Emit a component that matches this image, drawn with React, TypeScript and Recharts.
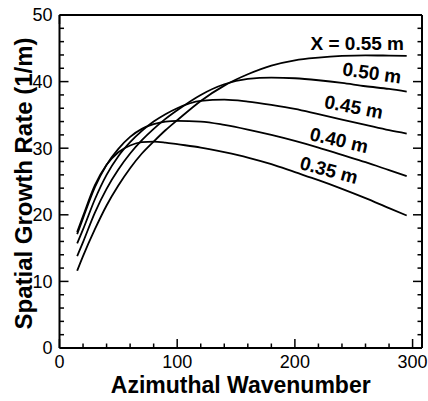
import React from 'react';
import { LineChart, Line, XAxis, YAxis, ReferenceDot } from 'recharts';

// azimuthal wavenumber samples
const wavenumbers = [15, 20, 30, 40, 50, 60, 70, 80, 90, 100, 120, 140, 160, 180, 200, 220, 240, 260, 280, 295];

// spatial growth rate (1/m) for each streamwise station
const rateX035 = [17.4, 19.8, 24.4, 27.5, 29.4, 30.4, 30.9, 31.0, 30.85, 30.6, 30.1, 29.4, 28.6, 27.6, 26.4, 25.2, 23.9, 22.5, 21.0, 19.9];
const rateX040 = [17.1, 19.5, 24.1, 27.5, 29.9, 31.7, 32.9, 33.6, 34.0, 34.1, 34.0, 33.5, 32.8, 32.0, 31.1, 30.1, 29.0, 27.9, 26.7, 25.8];
const rateX045 = [15.7, 17.8, 22.3, 26.0, 28.8, 30.9, 32.6, 34.0, 35.1, 36.0, 37.1, 37.3, 37.0, 36.5, 35.9, 35.1, 34.3, 33.5, 32.7, 32.2];
const rateX050 = [13.8, 15.9, 20.3, 23.9, 26.8, 29.2, 31.2, 32.9, 34.4, 35.7, 38.0, 39.6, 40.4, 40.6, 40.5, 40.2, 39.8, 39.3, 38.9, 38.5];
const rateX055 = [11.6, 13.8, 17.8, 21.4, 24.4, 27.0, 29.2, 31.0, 32.7, 34.2, 37.1, 39.4, 41.1, 42.4, 43.2, 43.6, 43.85, 43.95, 43.9, 43.85];

const seriesKeys = ['x035', 'x040', 'x045', 'x050', 'x055'];
const seriesValues = [rateX035, rateX040, rateX045, rateX050, rateX055];

// curve labels (data coordinates) and tilt
const labelTexts = ['0.35 m', '0.40 m', '0.45 m', '0.50 m', 'X = 0.55 m'];
const labelX = [229, 237.5, 250, 265.5, 253];
const labelY = [26.7, 31.2, 36.2, 41.3, 45.75];
const labelAngle = [15, 13, 11, 8, 0];

const xTicks = [0, 20, 40, 60, 80, 100, 120, 140, 160, 180, 200, 220, 240, 260, 280, 300];
const yTicks = [0, 2, 4, 6, 8, 10, 12, 14, 16, 18, 20, 22, 24, 26, 28, 30, 32, 34, 36, 38, 40, 42, 44, 46, 48, 50];

const data = wavenumbers.map((w, i) => {
  const row: Record<string, number> = { x: w };
  seriesKeys.forEach((k, j) => {
    row[k] = seriesValues[j][i];
  });
  return row;
});

const FONT = '"Liberation Sans", Arial, Helvetica, sans-serif';

const BottomTick = (props: any) => {
  const { x, y, payload } = props;
  const major = payload.value % 100 === 0;
  return (
    <g>
      <line x1={x} y1={y} x2={x} y2={y - (major ? 9 : 4.5)} stroke="#000" strokeWidth={1.5} />
      {major && (
        <text x={x} y={y + 20} textAnchor="middle" fontSize={18} fontFamily={FONT} fill="#000">
          {payload.value}
        </text>
      )}
    </g>
  );
};

const TopTick = (props: any) => {
  const { x, y, payload } = props;
  const major = payload.value % 100 === 0;
  return <line x1={x} y1={y} x2={x} y2={y + (major ? 9 : 4.5)} stroke="#000" strokeWidth={1.5} />;
};

const LeftTick = (props: any) => {
  const { x, y, payload } = props;
  const major = payload.value % 10 === 0;
  return (
    <g>
      <line x1={x} y1={y} x2={x + (major ? 9 : 4.5)} y2={y} stroke="#000" strokeWidth={1.5} />
      {major && (
        <text x={x - 7} y={y} dy="0.36em" textAnchor="end" fontSize={18} fontFamily={FONT} fill="#000">
          {payload.value}
        </text>
      )}
    </g>
  );
};

const RightTick = (props: any) => {
  const { x, y, payload } = props;
  const major = payload.value % 10 === 0;
  return <line x1={x} y1={y} x2={x - (major ? 9 : 4.5)} y2={y} stroke="#000" strokeWidth={1.5} />;
};

const XTitle = (props: any) => {
  const { viewBox } = props;
  return (
    <text
      x={viewBox.x + viewBox.width / 2}
      y={viewBox.y + 45}
      textAnchor="middle"
      fontSize={23}
      fontWeight="bold"
      fontFamily={FONT}
      fill="#000"
    >
      Azimuthal Wavenumber
    </text>
  );
};

const YTitle = (props: any) => {
  const { viewBox } = props;
  const cx = viewBox.x + viewBox.width - 28;
  const cy = viewBox.y + viewBox.height / 2 + 2;
  return (
    <text
      x={cx}
      y={cy}
      transform={`rotate(-90, ${cx}, ${cy})`}
      textAnchor="middle"
      fontSize={24}
      fontWeight="bold"
      fontFamily={FONT}
      fill="#000"
    >
      Spatial Growth Rate (1/m)
    </text>
  );
};

const curveLabel = (text: string, angle: number) => (p: any) => (
  <text
    x={p.cx}
    y={p.cy}
    transform={`rotate(${angle}, ${p.cx}, ${p.cy})`}
    textAnchor="middle"
    dominantBaseline="central"
    fontSize={19}
    fontWeight="bold"
    fontFamily={FONT}
    fill="#000"
  >
    {text}
  </text>
);

const axisStroke = { stroke: '#000', strokeWidth: 2 };

export default function App() {
  return (
    <div style={{ position: 'absolute', left: 0, top: 0, width: 428, height: 401, background: '#fff' }}>
      <LineChart width={428} height={401} data={data} margin={{ top: 14, right: 5, bottom: 52, left: 58.5 }}>
        <XAxis
          dataKey="x"
          type="number"
          domain={[0, 308]}
          allowDataOverflow
          ticks={xTicks}
          interval={0}
          height={1}
          tickSize={0}
          tickMargin={0}
          tickLine={false}
          axisLine={axisStroke}
          tick={<BottomTick />}
          label={<XTitle />}
        />
        <XAxis
          xAxisId="top"
          orientation="top"
          type="number"
          domain={[0, 308]}
          allowDataOverflow
          ticks={xTicks}
          interval={0}
          height={1}
          tickSize={0}
          tickMargin={0}
          tickLine={false}
          axisLine={axisStroke}
          tick={<TopTick />}
        />
        <YAxis
          type="number"
          domain={[0, 50]}
          allowDataOverflow
          ticks={yTicks}
          interval={0}
          width={1}
          tickSize={0}
          tickMargin={0}
          tickLine={false}
          axisLine={axisStroke}
          tick={<LeftTick />}
          label={<YTitle />}
        />
        <YAxis
          yAxisId="right"
          orientation="right"
          type="number"
          domain={[0, 50]}
          allowDataOverflow
          ticks={yTicks}
          interval={0}
          width={1}
          tickSize={0}
          tickMargin={0}
          tickLine={false}
          axisLine={axisStroke}
          tick={<RightTick />}
        />
        {seriesKeys.map((k) => (
          <Line
            key={k}
            type="monotone"
            dataKey={k}
            stroke="#000"
            strokeWidth={1.8}
            dot={false}
            isAnimationActive={false}
          />
        ))}
        {labelTexts.map((t, i) => (
          <ReferenceDot
            key={t}
            x={labelX[i]}
            y={labelY[i]}
            r={0}
            ifOverflow="visible"
            shape={curveLabel(t, labelAngle[i])}
          />
        ))}
      </LineChart>
    </div>
  );
}
